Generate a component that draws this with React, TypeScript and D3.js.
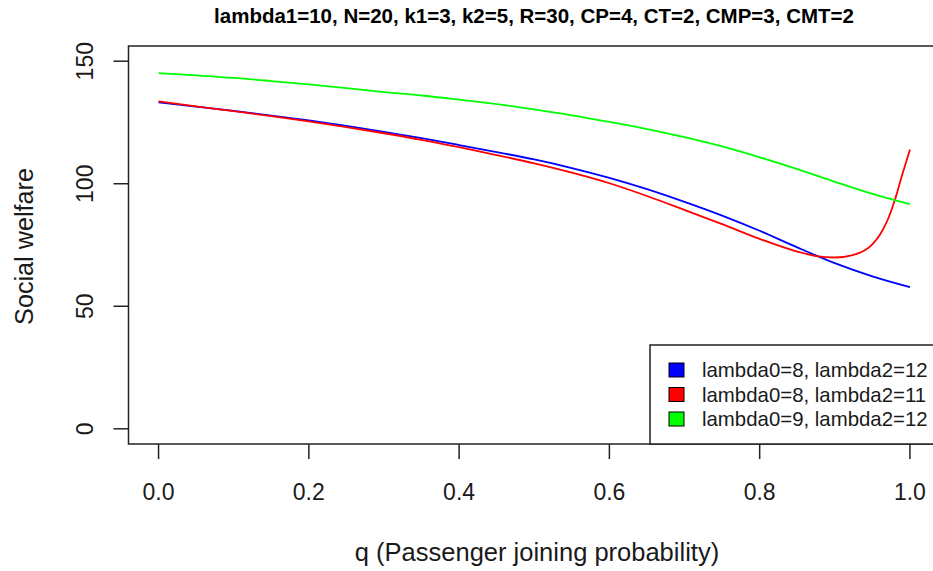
import React from "react";
import * as d3 from "d3";

// Joining probability grid and social welfare for each parameter set
const qBlue = [0, 0.05, 0.1, 0.15, 0.2, 0.25, 0.3, 0.35, 0.4, 0.45, 0.5, 0.55, 0.6, 0.65, 0.7, 0.75, 0.8, 0.85, 0.9, 0.95, 1.0];
const welfareBlue = [133.2, 131.5, 129.7, 127.8, 125.8, 123.6, 121.2, 118.6, 115.8, 112.9, 109.9, 106.4, 102.4, 97.8, 92.6, 87.0, 80.8, 74.0, 67.6, 62.2, 57.8];

const qRed = [0, 0.05, 0.1, 0.15, 0.2, 0.25, 0.3, 0.35, 0.4, 0.45, 0.5, 0.55, 0.6, 0.65, 0.7, 0.75, 0.8, 0.85, 0.875, 0.9, 0.925, 0.95, 0.96, 0.97, 0.98, 0.99, 1.0];
const welfareRed = [133.6, 131.6, 129.6, 127.6, 125.4, 123.1, 120.6, 117.9, 114.9, 111.7, 108.3, 104.5, 100.2, 95.0, 89.3, 83.5, 77.5, 72.3, 70.5, 69.9, 71.0, 75.3, 79.2, 85.0, 93.5, 104.0, 114.0];

const qGreen = [0, 0.05, 0.1, 0.15, 0.2, 0.25, 0.3, 0.35, 0.4, 0.45, 0.5, 0.55, 0.6, 0.65, 0.7, 0.75, 0.8, 0.85, 0.9, 0.95, 1.0];
const welfareGreen = [145.1, 144.2, 143.2, 141.9, 140.5, 139.0, 137.4, 136.0, 134.3, 132.5, 130.3, 127.9, 125.2, 122.3, 119.0, 115.2, 110.8, 106.0, 100.8, 95.9, 91.7];

const legendLabels = ["lambda0=8, lambda2=12", "lambda0=8, lambda2=11", "lambda0=9, lambda2=12"];
const seriesColors = ["#0000ff", "#ff0000", "#00ff00"];

const xTicks = [0, 0.2, 0.4, 0.6, 0.8, 1.0];
const yTicks = [0, 50, 100, 150];

const title = "lambda1=10, N=20, k1=3, k2=5, R=30, CP=4, CT=2, CMP=3, CMT=2";
const xTitle = "q (Passenger joining probability)";
const yTitle = "Social welfare";

const W = 933;
const H = 571;
const FONT = "'Liberation Sans', Arial, sans-serif";

export default function App() {
  const box = { left: 128.5, top: 46, right: 940, bottom: 444 };
  const x = d3.scaleLinear().domain([-0.04, 1.04]).range([box.left, box.right]);
  const y = d3.scaleLinear().domain([-6.2, 156.2]).range([box.bottom, box.top]);

  const series = [
    { q: qBlue, v: welfareBlue, color: seriesColors[0] },
    { q: qRed, v: welfareRed, color: seriesColors[1] },
    { q: qGreen, v: welfareGreen, color: seriesColors[2] },
  ];

  const line = d3
    .line<[number, number]>()
    .x((d) => x(d[0]))
    .y((d) => y(d[1]))
    .curve(d3.curveMonotoneX);

  const axisColor = "#222";
  const textColor = "#1a1a1a";
  const legendLeft = 650;
  const legendTop = 345;
  const rowY = [370, 394.5, 419];

  return (
    <svg
      width={W}
      height={H}
      style={{ position: "absolute", left: 0, top: 0, background: "#fff" }}
      fontFamily={FONT}
    >
      <rect x={0} y={0} width={W} height={H} fill="#fff" />
      <defs>
        <clipPath id="plotClip">
          <rect x={box.left} y={box.top} width={box.right - box.left} height={box.bottom - box.top} />
        </clipPath>
      </defs>

      {/* Title */}
      <text x={534} y={23} textAnchor="middle" fontSize={20.5} fontWeight="bold" fill="#000">
        {title}
      </text>

      {/* Curves */}
      <g clipPath="url(#plotClip)">
        {series.map((s, i) => (
          <path
            key={i}
            d={line(s.q.map((q, j) => [q, s.v[j]] as [number, number])) || ""}
            fill="none"
            stroke={s.color}
            strokeWidth={1.8}
          />
        ))}
      </g>

      {/* Plot frame */}
      <rect
        x={box.left}
        y={box.top}
        width={box.right - box.left}
        height={box.bottom - box.top}
        fill="none"
        stroke={axisColor}
        strokeWidth={1.5}
      />

      {/* X axis */}
      {xTicks.map((t) => (
        <g key={t}>
          <line x1={x(t)} x2={x(t)} y1={box.bottom} y2={box.bottom + 15} stroke={axisColor} strokeWidth={1.5} />
          <text x={x(t)} y={500} textAnchor="middle" fontSize={23} fill={textColor}>
            {t.toFixed(1)}
          </text>
        </g>
      ))}

      {/* Y axis */}
      {yTicks.map((t) => (
        <g key={t}>
          <line x1={box.left - 15} x2={box.left} y1={y(t)} y2={y(t)} stroke={axisColor} strokeWidth={1.5} />
          <text
            transform={`translate(93,${y(t)}) rotate(-90)`}
            textAnchor="middle"
            fontSize={23}
            fill={textColor}
          >
            {t}
          </text>
        </g>
      ))}

      {/* Axis titles */}
      <text x={537} y={561} textAnchor="middle" fontSize={25.5} fill={textColor}>
        {xTitle}
      </text>
      <text transform={`translate(33,246.5) rotate(-90)`} textAnchor="middle" fontSize={25.2} fill={textColor}>
        {yTitle}
      </text>

      {/* Legend */}
      <rect
        x={legendLeft}
        y={legendTop}
        width={box.right - legendLeft}
        height={box.bottom - legendTop}
        fill="#fff"
        stroke={axisColor}
        strokeWidth={1.5}
      />
      {legendLabels.map((lab, i) => (
        <g key={lab}>
          <rect x={669} y={rowY[i] - 7} width={15} height={14} fill={seriesColors[i]} stroke="#000" strokeWidth={1} />
          <text x={702} y={rowY[i] + 7} fontSize={20.4} fill={textColor}>
            {lab}
          </text>
        </g>
      ))}
    </svg>
  );
}
